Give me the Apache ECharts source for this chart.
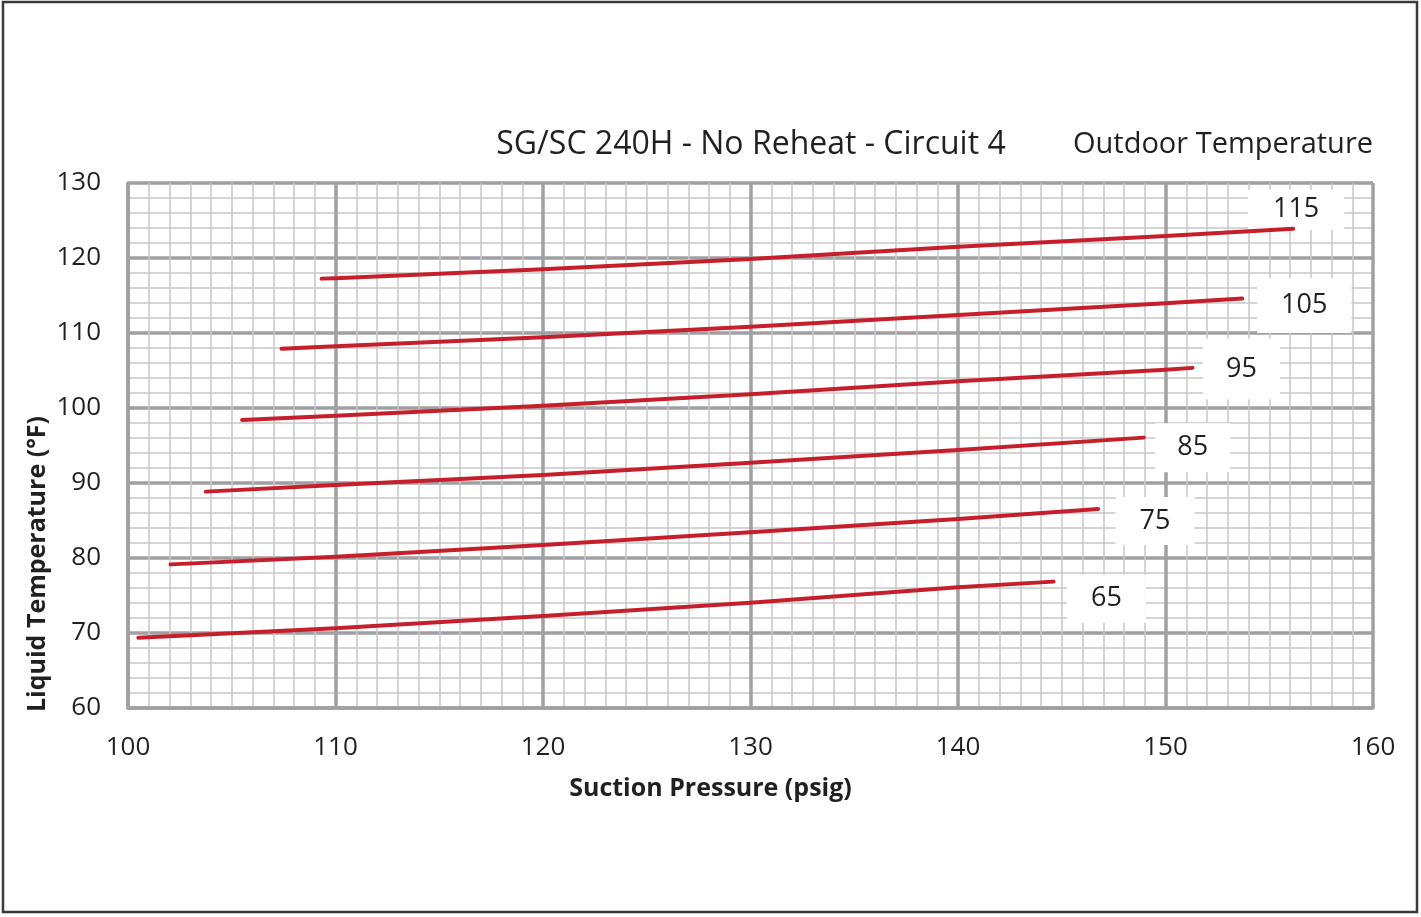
<!DOCTYPE html>
<html>
<head>
<meta charset="utf-8">
<script src="https://cdn.jsdelivr.net/npm/echarts@6/dist/echarts.min.js"></script>
<style>
html,body{margin:0;padding:0;background:#fff;}
#chart{width:1421px;height:917px;}
</style>
</head>
<body>
<div id="chart"></div>
<script>
// ---- data ----
const titleText = 'SG/SC 240H - No Reheat - Circuit 4';
const legendTitle = 'Outdoor Temperature';
const xAxisTitle = 'Suction Pressure (psig)';
const yAxisTitle = 'Liquid Temperature (°F)';
const seriesNames = ['115', '105', '95', '85', '75', '65'];
const line115 = [[109.33,117.25],[110,117.3],[120,118.5],[130,119.87],[140,121.5],[150,122.93],[156.15,123.9]];
const line105 = [[107.4,107.9],[110,108.23],[120,109.43],[130,110.84],[140,112.4],[150,113.96],[153.7,114.6]];
const line95  = [[105.5,98.4],[110,98.98],[120,100.31],[130,101.82],[140,103.56],[150,105.1],[151.3,105.35]];
const line85  = [[103.75,88.85],[110,89.73],[120,91.07],[130,92.71],[140,94.4],[148.95,96.05]];
const line75  = [[102.05,79.15],[110,80.18],[120,81.73],[130,83.42],[140,85.2],[146.75,86.53]];
const line65  = [[100.5,69.37],[110,70.62],[120,72.27],[130,74.04],[140,76.09],[144.6,76.85]];
const seriesData = [line115, line105, line95, line85, line75, line65];

// label box styling (offset from line end to label centre, padding)
const labelStyles = [
  {offset:[3,-19], padding:[13,25,0,25]},
  {offset:[62,7], padding:[18,24,10,24]},
  {offset:[49,1], padding:[18,23,16,23]},
  {offset:[49,10], padding:[22,22,0,22]},
  {offset:[57,12], padding:[21,24,0,24]},
  {offset:[53,17], padding:[21,24,0,24]}
];

const FONT = '"Open Sans", "Noto Sans", sans-serif';
const RED = '#c61f2b';

const chart = echarts.init(document.getElementById('chart'), null, {renderer:'canvas'});

const series = seriesData.map((d, i) => ({
  name: seriesNames[i],
  type: 'line',
  data: d,
  smooth: false,
  showSymbol: false,
  symbol: 'none',
  lineStyle: {color: RED, width: 4, cap: 'round', join: 'round'},
  itemStyle: {color: RED},
  z: 5,
  silent: true,
  markPoint: {
    silent: true,
    symbol: 'circle',
    symbolSize: 1,
    itemStyle: {color: 'rgba(0,0,0,0)'},
    data: [{coord: d[d.length - 1]}],
    label: {
      show: true,
      position: 'inside',
      formatter: seriesNames[i],
      offset: labelStyles[i].offset,
      backgroundColor: '#ffffff',
      padding: labelStyles[i].padding,
      color: '#231f20',
      fontFamily: FONT,
      fontSize: 27,
      lineHeight: 27
    },
    z: 4
  }
}));

const option = {
  backgroundColor: '#ffffff',
  animation: false,
  title: [
    {text: titleText, left: 746, top: 140, textAlign: 'center', textVerticalAlign: 'middle',
     textStyle: {fontFamily: FONT, fontSize: 32, fontWeight: 'normal', color: '#231f20'}},
    {text: legendTitle, left: 1218, top: 140, textAlign: 'center', textVerticalAlign: 'middle',
     textStyle: {fontFamily: FONT, fontSize: 29, fontWeight: 'normal', color: '#231f20'}}
  ],
  grid: {left: 128, right: 48, top: 183, bottom: 209, containLabel: false},
  xAxis: {
    type: 'value', min: 100, max: 160, interval: 10,
    axisLine: {show: true, lineStyle: {color: '#a0a0a4', width: 3.5}},
    axisTick: {show: false},
    minorTick: {show: false, splitNumber: 10},
    axisLabel: {color: '#231f20', fontFamily: FONT, fontSize: 26, margin: 27},
    splitLine: {show: true, lineStyle: {color: '#a0a0a4', width: 3.5}},
    minorSplitLine: {show: true, lineStyle: {color: '#c8c8c8', width: 1.5}},
    name: xAxisTitle, nameLocation: 'middle', nameGap: 68,
    nameTextStyle: {fontFamily: FONT, fontSize: 25, fontWeight: 'bold', color: '#231f20', padding: [0, 80, 0, 0]}
  },
  yAxis: {
    type: 'value', min: 60, max: 130, interval: 10,
    axisLine: {show: true, lineStyle: {color: '#a0a0a4', width: 3.5}},
    axisTick: {show: false},
    minorTick: {show: false, splitNumber: 5},
    axisLabel: {color: '#231f20', fontFamily: FONT, fontSize: 26, margin: 27},
    splitLine: {show: true, lineStyle: {color: '#a0a0a4', width: 3.5}},
    minorSplitLine: {show: true, lineStyle: {color: '#c8c8c8', width: 1.5}}
  },
  graphic: [
    {type: 'rect', shape: {x: 3, y: 2, width: 1414, height: 910},
     style: {fill: 'none', stroke: '#3a3a3a', lineWidth: 2.5}, silent: true, z: 100},
    {type: 'text', x: 38, y: 564, rotation: Math.PI / 2,
     style: {text: yAxisTitle, fontFamily: FONT, fontSize: 25, fontWeight: 'bold', fill: '#231f20',
             textAlign: 'center', textVerticalAlign: 'middle'}, silent: true}
  ],
  series: series
};
chart.setOption(option);
</script>
</body>
</html>
